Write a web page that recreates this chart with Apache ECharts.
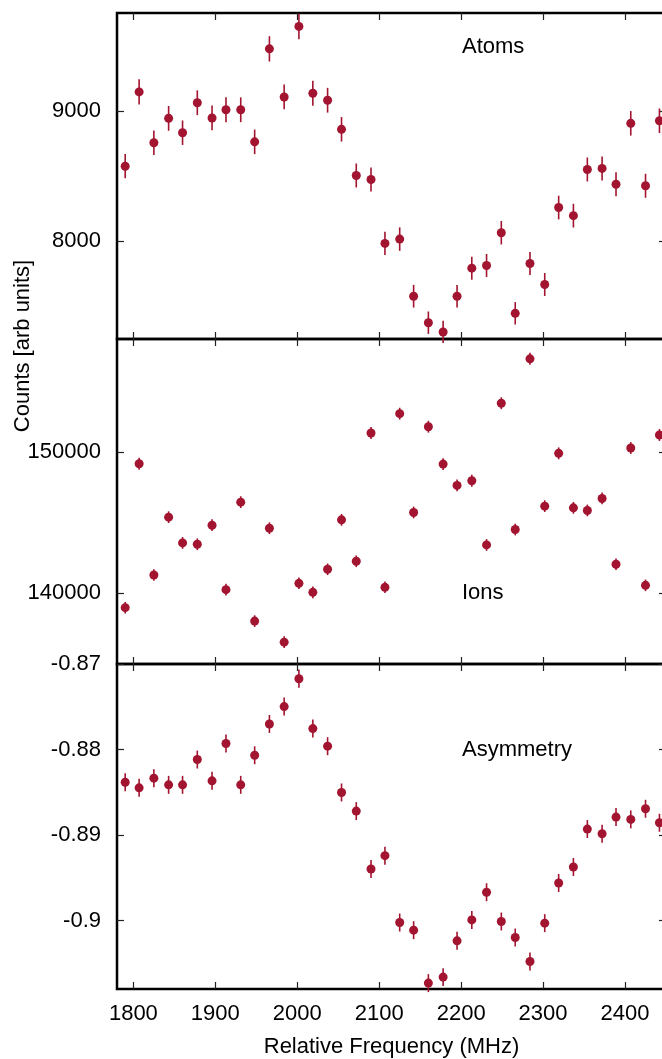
<!DOCTYPE html>
<html><head><meta charset="utf-8">
<script src="https://cdn.jsdelivr.net/npm/echarts@6/dist/echarts.min.js"></script>
<style>html,body{margin:0;padding:0;background:#fff}#c{width:662px;height:1059px}</style>
</head><body><div id="c"></div><script>
const freq = [1790,1807,1825,1843,1860,1878,1896,1913,1931,1948,1966,1984,2002,2019,2037,2054,2072,2090,2107,2125,2142,2160,2178,2195,2213,2231,2249,2266,2284,2302,2319,2337,2354,2372,2389,2407,2425,2442];
const atoms = [8575,9145,8755,8942,8832,9062,8945,9008,9008,8762,9475,9106,9647,9135,9081,8858,8504,8473,7983,8016,7578,7375,7304,7578,7793,7814,8065,7447,7829,7668,8258,8196,8550,8558,8437,8904,8425,8924];
const atomsErr = [93,96,94,95,94,95,95,95,95,94,97,95,98,96,95,94,92,92,89,90,87,86,85,87,88,88,90,86,88,88,91,91,92,92,92,94,92,94];
const ions = [138986,149170,141298,145390,143570,143475,144823,140262,146454,138035,144610,136548,140709,140071,141702,145200,142269,151348,140426,152716,145723,151794,149149,147638,147965,143426,153454,144518,156596,146170,149908,146050,145865,146716,142057,150284,140567,151206];
const ionsErr = [410,420,410,415,415,415,415,410,415,410,415,410,410,410,410,415,410,420,410,420,415,420,420,420,420,415,420,415,425,415,420,415,415,415,410,420,410,420];
const asym = [-0.88382,-0.88448,-0.88335,-0.88413,-0.88413,-0.88117,-0.88366,-0.87930,-0.88413,-0.88067,-0.87701,-0.87498,-0.87172,-0.87755,-0.87961,-0.88502,-0.88720,-0.89397,-0.89241,-0.90023,-0.90112,-0.90731,-0.90661,-0.90237,-0.89992,-0.89669,-0.90011,-0.90198,-0.90478,-0.90030,-0.89560,-0.89373,-0.88930,-0.88985,-0.88790,-0.88817,-0.88693,-0.88856];
const asymErr = [0.00105,0.00105,0.00105,0.00105,0.00105,0.00105,0.00105,0.00105,0.00105,0.00105,0.00105,0.00105,0.00107,0.00105,0.00105,0.00105,0.00105,0.00105,0.00105,0.00105,0.00105,0.00105,0.00105,0.00105,0.00105,0.00105,0.00105,0.00105,0.00105,0.00105,0.00105,0.00105,0.00105,0.00105,0.00105,0.00105,0.00105,0.00105];
const xTicks = [1800,1900,2000,2100,2200,2300,2400];
const atomsTicks = [8000,9000];
const ionsTicks = [140000,150000];
const asymTicks = [-0.9,-0.89,-0.88,-0.87];
const panelNames = ['Atoms','Ions','Asymmetry'];
const xTitle = 'Relative Frequency (MHz)';
const yTitle = 'Counts [arb units]';

const FONT = '"Liberation Sans", Arial, Helvetica, sans-serif';
const RED = '#A2142F';
const plain = v => String(v);
const panels = [
  {vals: atoms, errs: atomsErr, ticks: atomsTicks, min: 7250, max: 9750, top: 13, height: 326, labelY: 47},
  {vals: ions, errs: ionsErr, ticks: ionsTicks, min: 135000, max: 158000, top: 339, height: 325, labelY: 593},
  {vals: asym, errs: asymErr, ticks: asymTicks, min: -0.908, max: -0.87, top: 664, height: 325, labelY: 750}
];
const tickStyle = {inside: true, length: 7, lineStyle: {color: '#222', width: 1.2}};
const grid = [], xAxis = [], yAxis = [], series = [], graphic = [];
panels.forEach((p, i) => {
  grid.push({left: 117, width: 549, top: p.top, height: p.height, show: true,
    outerBoundsMode: 'none', containLabel: false,
    borderColor: '#000', borderWidth: 2.5, backgroundColor: 'transparent'});
  const last = i === panels.length - 1;
  xAxis.push({type: 'value', gridIndex: i, position: 'bottom', min: 1780, max: 2450,
    axisLine: {show: false}, splitLine: {show: false},
    axisTick: Object.assign({customValues: xTicks}, tickStyle),
    axisLabel: {show: last, customValues: xTicks, formatter: plain, fontSize: 22, fontFamily: FONT, color: '#000', margin: 14},
    name: last ? xTitle : '', nameLocation: 'middle', nameGap: 47, nameMoveOverlap: false,
    nameTextStyle: {fontSize: 22, fontFamily: FONT, color: '#000'}});
  xAxis.push({type: 'value', gridIndex: i, position: 'top', min: 1780, max: 2450,
    axisLine: {show: false}, splitLine: {show: false},
    axisTick: Object.assign({customValues: xTicks}, tickStyle),
    axisLabel: {show: false}});
  yAxis.push({type: 'value', gridIndex: i, position: 'left', min: p.min, max: p.max,
    axisLine: {show: false}, splitLine: {show: false},
    axisTick: Object.assign({customValues: p.ticks}, tickStyle),
    axisLabel: {customValues: p.ticks, formatter: plain, fontSize: 22, fontFamily: FONT, color: '#000', margin: 16,
      showMinLabel: true, showMaxLabel: true}});
  yAxis.push({type: 'value', gridIndex: i, position: 'right', min: p.min, max: p.max,
    axisLine: {show: false}, splitLine: {show: false},
    axisTick: Object.assign({customValues: p.ticks}, tickStyle),
    axisLabel: {show: false}});
  const d = freq.map((f, k) => [f, p.vals[k], p.errs[k]]);
  series.push({type: 'custom', xAxisIndex: 2 * i, yAxisIndex: 2 * i, data: d, clip: false,
    encode: {x: 0, y: 1},
    renderItem: function (params, api) {
      const x = api.value(0), y = api.value(1), e = api.value(2);
      const a = api.coord([x, y - e]), b = api.coord([x, y + e]);
      return {type: 'line', shape: {x1: a[0], y1: a[1], x2: b[0], y2: b[1]},
        style: {stroke: RED, lineWidth: 1.6}};
    }, z: 2, silent: true});
  series.push({type: 'scatter', xAxisIndex: 2 * i, yAxisIndex: 2 * i, data: d.map(v => [v[0], v[1]]),
    symbol: 'circle', symbolSize: 9, itemStyle: {color: RED, opacity: 1}, clip: false, z: 3, silent: true});
  graphic.push({type: 'text', x: 462, y: p.labelY,
    style: {text: panelNames[i], fontSize: 22, fontFamily: FONT, fill: '#000', align: 'left', verticalAlign: 'middle'}});
});
graphic.push({type: 'text', x: 23, y: 346, rotation: Math.PI / 2,
  style: {text: yTitle, fontSize: 22, fontFamily: FONT, fill: '#000', align: 'center', verticalAlign: 'middle'}});

const chart = echarts.init(document.getElementById('c'), null, {renderer: 'canvas'});
chart.setOption({animation: false, backgroundColor: '#fff', grid, xAxis, yAxis, series, graphic});
</script></body></html>
